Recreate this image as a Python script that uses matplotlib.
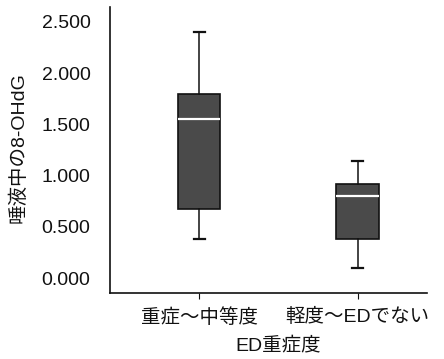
import matplotlib
matplotlib.use("Agg")
import matplotlib.pyplot as plt

plt.rcParams['font.family'] = ['Liberation Sans', 'Noto Sans CJK JP', 'DejaVu Sans']

categories = ["重症～中等度", "軽度～EDでない"]
whisker_low = [0.38, 0.10]
q1 = [0.675, 0.38]
median = [1.55, 0.80]
q3 = [1.80, 0.915]
whisker_high = [2.40, 1.14]
yticks = [0.0, 0.5, 1.0, 1.5, 2.0, 2.5]
ytick_labels = ["0.000", "0.500", "1.000", "1.500", "2.000", "2.500"]

stats = []
for i, name in enumerate(categories):
    stats.append(dict(label=name, whislo=whisker_low[i], q1=q1[i], med=median[i],
                      q3=q3[i], whishi=whisker_high[i], fliers=[]))

fig = plt.figure(figsize=(4.44, 3.59), dpi=100)
ax = fig.add_axes([110 / 444, 1 - 293 / 359, (427 - 110) / 444, (293 - 7) / 359])

ax.bxp(stats, positions=[0, 1], widths=0.27, patch_artist=True, showfliers=False,
       boxprops=dict(facecolor="#4a4a4a", edgecolor="#111111", linewidth=1.2),
       medianprops=dict(color="white", linewidth=1.6),
       whiskerprops=dict(color="#111111", linewidth=1.1),
       capprops=dict(color="#111111", linewidth=1.6),
       capwidths=0.07)

ax.set_xlim(-0.562, 1.438)
ax.set_ylim(-0.146, 2.646)
ax.set_yticks(yticks)
ax.set_yticklabels(ytick_labels)
ax.set_xticks([0, 1])
ax.set_xticklabels(categories)

for side in ("top", "right"):
    ax.spines[side].set_visible(False)
for side in ("left", "bottom"):
    ax.spines[side].set_linewidth(1.2)
    ax.spines[side].set_color("#111111")

ax.tick_params(axis="y", length=0, pad=14, labelsize=14, colors="#111111")
ax.tick_params(axis="x", length=4, direction="out", pad=7, labelsize=14, colors="#111111")

ax.set_ylabel("唾液中の8-OHdG", fontsize=14, color="#111111")
ax.set_xlabel("ED重症度", fontsize=14, color="#111111")
ax.yaxis.set_label_coords(-0.259, 0.507)
ax.xaxis.set_label_coords(0.532, -0.152)

fig.savefig("out.png", dpi=100)
